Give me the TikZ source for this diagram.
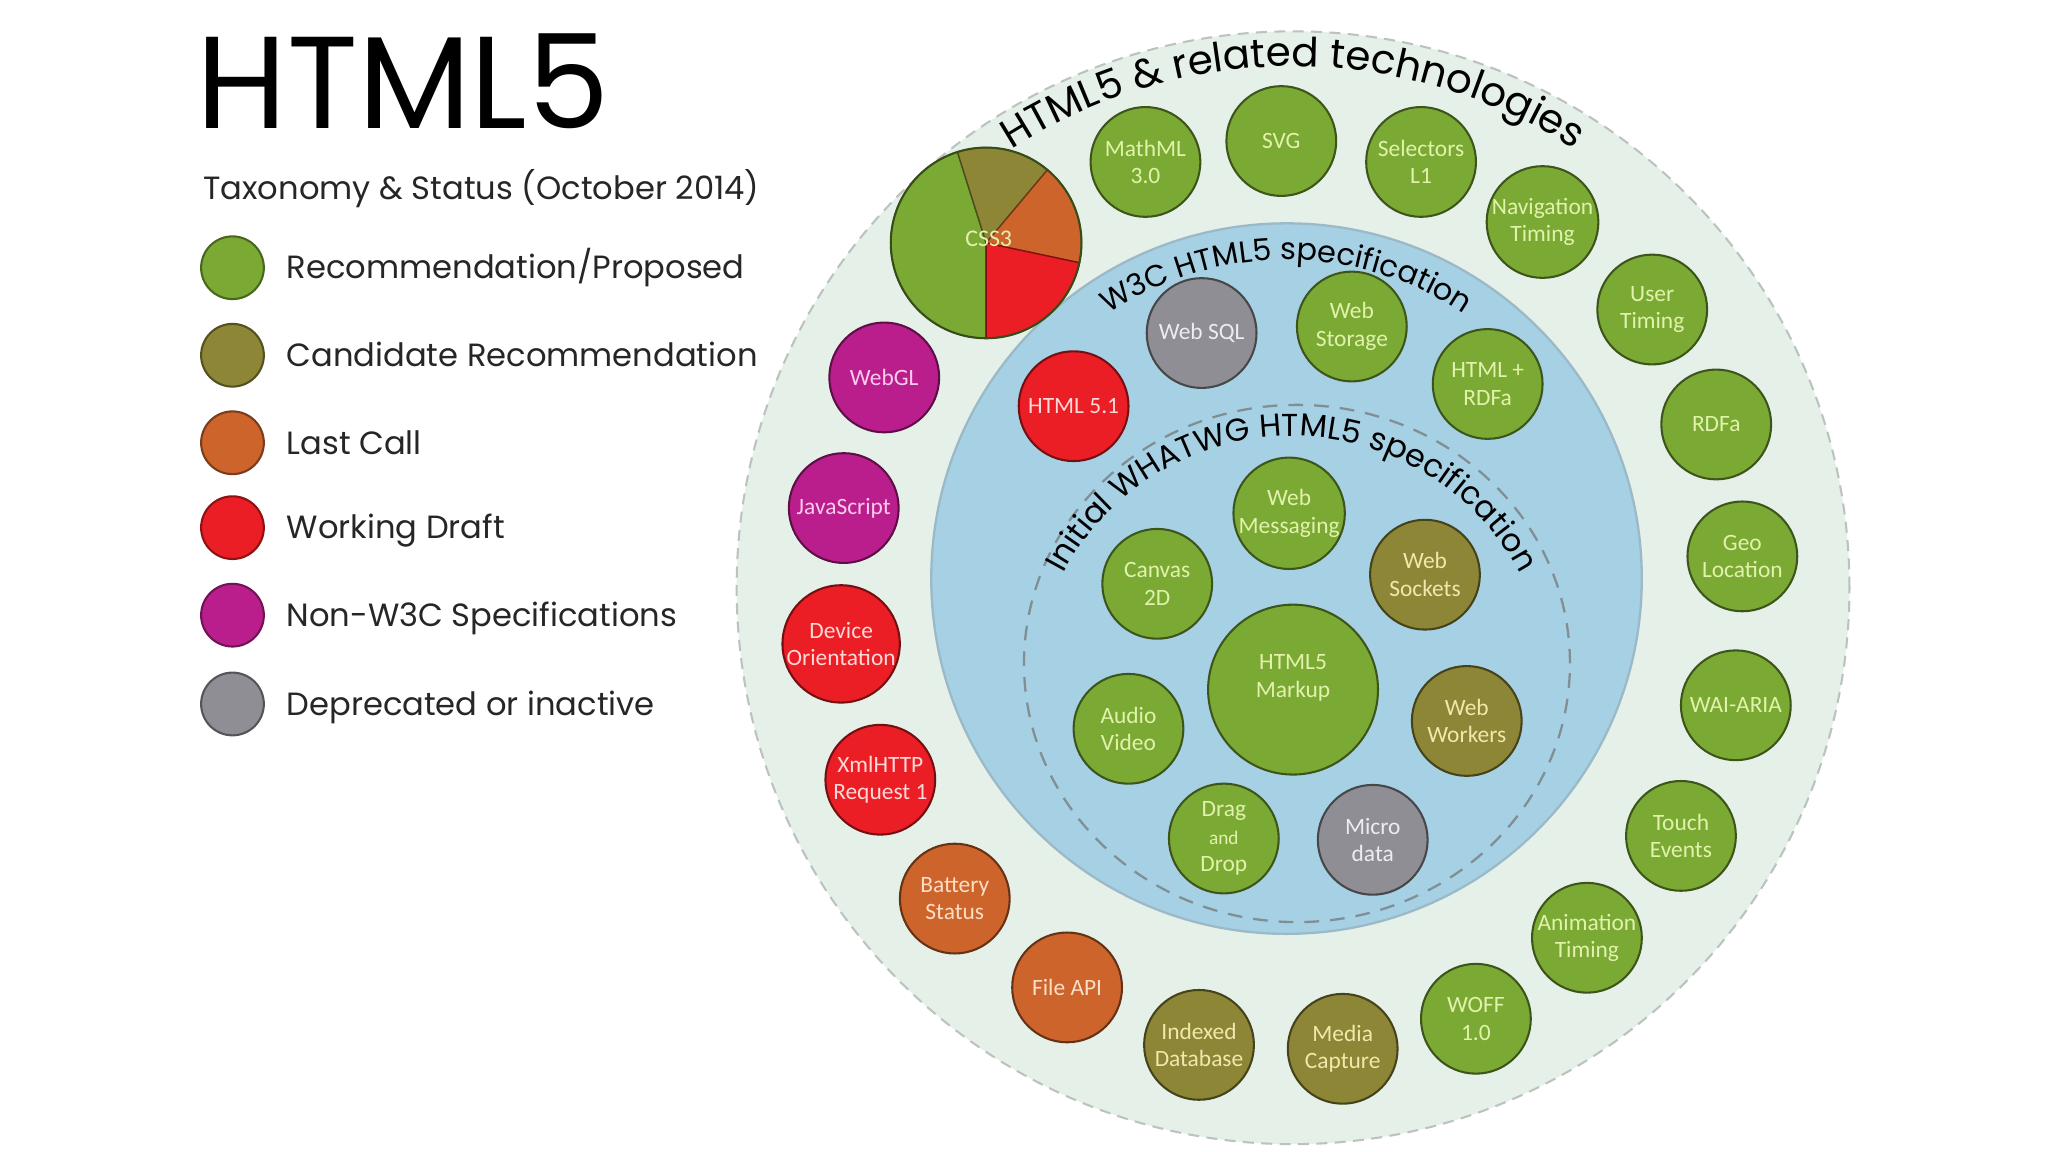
\documentclass[tikz,border=0pt]{standalone}
\usepackage{fontspec}
\setmainfont{Poppins}
\newfontfamily\techfont{Carlito}
\usetikzlibrary{positioning,decorations.text}

\definecolor{recgreen}{RGB}{122,170,52}
\definecolor{candolive}{RGB}{140,134,54}
\definecolor{lastorange}{RGB}{204,100,44}
\definecolor{draftred}{RGB}{234,30,36}
\definecolor{nonmagenta}{RGB}{186,30,140}
\definecolor{depgray}{RGB}{142,142,148}
\definecolor{ringfill}{RGB}{229,240,233}
\definecolor{specblue}{RGB}{166,209,228}
\definecolor{rectext}{RGB}{226,242,172}
\definecolor{candtext}{RGB}{240,232,172}
\definecolor{lasttext}{RGB}{252,222,196}
\definecolor{drafttext}{RGB}{255,216,216}
\definecolor{nontext}{RGB}{250,204,236}
\definecolor{deprtext}{RGB}{236,236,242}
\definecolor{inktext}{RGB}{38,38,38}

\newcommand\ringfont{\fontsize{8.8}{10}\selectfont}
\newcommand\specfont{\fontsize{6.6}{8}\selectfont}
\newcommand\whatfont{\fontsize{6.9}{8}\selectfont}

\tikzset{
  techball/.style={circle, minimum size=0.84cm, inner sep=0pt, line width=0.45pt,
    align=center, font=\techfont\fontsize{5.1}{6}\selectfont},
  rec/.style={techball, fill=recgreen, draw=recgreen!50!black, text=rectext},
  cand/.style={techball, fill=candolive, draw=candolive!50!black, text=candtext},
  lastc/.style={techball, fill=lastorange, draw=lastorange!50!black, text=lasttext},
  draft/.style={techball, fill=draftred, draw=draftred!50!black, text=drafttext},
  nonw3c/.style={techball, fill=nonmagenta, draw=nonmagenta!50!black, text=nontext},
  depr/.style={techball, fill=depgray, draw=depgray!50!black, text=deprtext},
  legball/.style={circle, minimum size=0.48cm, inner sep=0pt, line width=0.45pt},
  legtext/.style={anchor=west, inner sep=0pt, text=inktext,
    font=\fontsize{7}{9}\selectfont, text height=4.9pt, text depth=0pt},
  slice/.style={line width=0.3pt, draw=#1!55!black, fill=#1},
}

\begin{document}
\begin{tikzpicture}[x=0.01cm, y=0.01cm]

\fill[white] (0,0) rectangle (1568,882);
\useasboundingbox (0,0) rectangle (1568,882);

% the three rings
\coordinate (ringc) at (990,432);
\coordinate (specc) at (985,439);
\coordinate (whatc) at (993,374);
\coordinate (whattxt) at (989,350);
\draw[ringfill!60!gray, fill=ringfill, line width=0.45pt, dash pattern=on 2.4pt off 1.6pt] (ringc) circle[radius=426];
\draw[specblue!70!gray, fill=specblue, line width=0.5pt] (specc) circle[radius=272];
\draw[specblue!45!black!70, line width=0.5pt, dash pattern=on 3.2pt off 2.4pt] (whatc) ellipse[x radius=209, y radius=198];

\path[decorate, decoration={text along path, text align=center,
    text={|\ringfont|HTML5 {\&} related technologies}}]
  (ringc) ++(160:399) arc[start angle=160, end angle=20, radius=399];
\path[decorate, decoration={text along path, text align=center,
    text={|\specfont|W3C HTML5 specification}}]
  (specc) ++(160:244) arc[start angle=160, end angle=20, radius=244];
\path[decorate, decoration={text along path, text align=center,
    text={|\whatfont|Initial WHATWG HTML5 specification}}]
  (whattxt) ++(175:198) arc[start angle=175, end angle=5, radius=198];

% title and legend
\node[anchor=west, inner sep=0pt, font=\fontsize{28.5}{32}\selectfont, text=black] (title) at (150,820) {HTML5};
\node[anchor=base west, inner sep=0pt, font=\fontsize{7}{8}\selectfont, text=inktext] (subtitle) at (155,729) {Taxonomy \& Status (October 2014)};

\foreach \y/\col/\txt [count=\i] in {677/recgreen/{Recommendation/Proposed},
    610/candolive/{Candidate Recommendation}, 543/lastorange/{Last Call},
    478/draftred/{Working Draft}, 411/nonmagenta/{Non-W3C Specifications},
    343/depgray/{Deprecated or inactive}}{
  \node[legball, fill=\col, draw=\col!60!black] (leg\i) at (178,\y) {};
  \node[legtext, right=0.16cm of leg\i] (legtxt\i) {\txt};
}

% CSS3 pie
\coordinate (css3c) at (755,696);
\path[slice=recgreen] (css3c) -- ++(107.5:73) arc[start angle=107.5, end angle=270, radius=73] -- cycle;
\path[slice=candolive] (css3c) -- ++(50:73) arc[start angle=50, end angle=107.5, radius=73] -- cycle;
\path[slice=lastorange] (css3c) -- ++(-12:73) arc[start angle=-12, end angle=50, radius=73] -- cycle;
\path[slice=draftred] (css3c) -- ++(-90:73) arc[start angle=-90, end angle=-12, radius=73] -- cycle;
\draw[recgreen!45!black, line width=0.45pt] (css3c) circle[radius=73];
\node[font=\techfont\fontsize{5.2}{6}\selectfont, text=rectext, inner sep=0pt] (css3) at (757,699) {CSS3};

% related technologies
\node[rec] (mathml) at (877,758) {MathML\\3.0};
\node[rec] (svg) at (981,774) {SVG};
\node[rec] (selectors) at (1088,758) {Selectors\\L1};
\node[rec] (navtiming) at (1181,712) {Navigation\\Timing};
\node[rec] (usertiming) at (1265,645) {User\\Timing};
\node[rec] (rdfa) at (1314,557) {RDFa};
\node[rec] (geoloc) at (1334,456) {Geo\\Location};
\node[rec] (waiaria) at (1329,342) {WAI-ARIA};
\node[rec] (touch) at (1287,242) {Touch\\Events};
\node[rec] (animtiming) at (1215,164) {Animation\\Timing};
\node[rec] (woff) at (1130,102) {WOFF\\1.0};
\node[cand] (mediacap) at (1028,79) {Media\\Capture};
\node[cand] (indexeddb) at (918,82) {Indexed\\Database};
\node[lastc] (fileapi) at (817,126) {File API};
\node[lastc] (battery) at (731,194) {Battery\\Status};
\node[draft] (xhr) at (674,285) {XmlHTTP\\Request 1};
\node[draft] (deviceor) at (644,389) {Device\\Orientation};
\node[nonw3c] (javascript) at (646,493) {JavaScript};
\node[nonw3c] (webgl) at (677,593) {WebGL};

% W3C specification
\node[depr] (websql) at (920,627) {Web SQL};
\node[rec] (webstorage) at (1035,632) {Web\\Storage};
\node[rec] (htmlrdfa) at (1139,588) {HTML +\\RDFa};
\node[draft] (html51) at (822,571) {HTML 5.1};

% WHATWG specification
\node[rec] (webmsg) at (987,489) {Web\\Messaging};
\node[rec] (canvas) at (886,435) {Canvas\\2D};
\node[cand] (websockets) at (1091,442) {Web\\Sockets};
\node[rec, minimum size=1.3cm] (markup) at (990,354) {HTML5\\Markup\\\mbox{}};
\node[rec] (audiovideo) at (864,324) {Audio\\Video};
\node[cand] (workers) at (1123,330) {Web\\Workers};
\node[rec] (dragdrop) at (937,240) {Drag\\{\fontsize{4.2}{5}\selectfont and}\\Drop};
\node[depr] (microdata) at (1051,239) {Micro\\data};

\end{tikzpicture}
\end{document}
